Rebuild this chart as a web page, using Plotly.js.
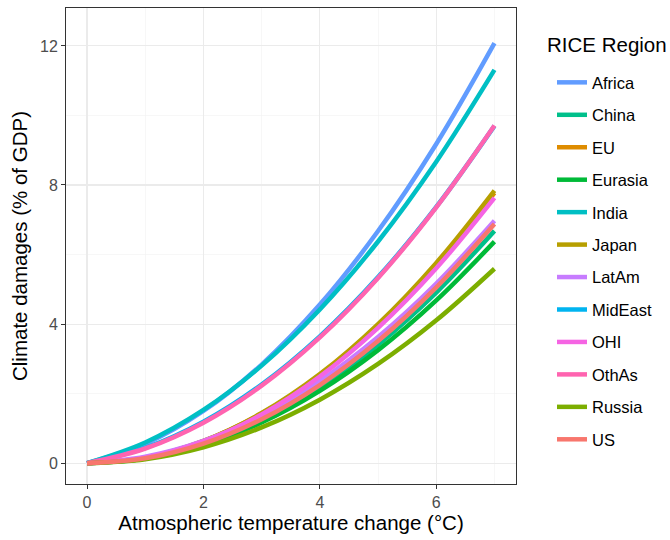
<!DOCTYPE html>
<html>
<head>
<meta charset="utf-8">
<script src="https://cdn.plot.ly/plotly-3.0.1.min.js"></script>
<style>html,body{margin:0;padding:0;background:#fff;}#chart{width:670px;height:540px;}</style>
</head>
<body>
<div id="chart"></div>
<script>
// Temperature change (°C)
const temps = [0, 1, 2, 3, 4, 5, 6, 7];
// Regions (legend order)
const regions = ["Africa","China","EU","Eurasia","India","Japan","LatAm","MidEast","OHI","OthAs","Russia","US"];
const legendTitle = "RICE Region";
// Damages (% of GDP)
const africa  = [0, 0.555, 1.50, 2.835, 4.56, 6.675, 9.18, 12.08];
const china   = [0, 0.136, 0.545, 1.227, 2.181, 3.408, 4.907, 6.68];
const eu      = [0, 0.159, 0.634, 1.427, 2.537, 3.964, 5.709, 7.77];
const eurasia = [0, 0.130, 0.520, 1.170, 2.080, 3.250, 4.680, 6.37];
const india   = [0, 0.595, 1.53, 2.805, 4.42, 6.375, 8.67, 11.31];
const japan   = [0, 0.160, 0.640, 1.440, 2.560, 4.000, 5.760, 7.84];
const latam   = [0, 0.185, 0.640, 1.366, 2.362, 3.628, 5.164, 6.97];
const mideast = [0, 0.438, 1.192, 2.262, 3.648, 5.350, 7.368, 9.70];
const ohi     = [0, 0.156, 0.623, 1.401, 2.491, 3.893, 5.606, 7.63];
const othas   = [0, 0.421, 1.164, 2.229, 3.616, 5.325, 7.356, 9.71];
const russia  = [0, 0.114, 0.456, 1.027, 1.825, 2.852, 4.107, 5.59];
const us      = [0, 0.140, 0.562, 1.264, 2.247, 3.510, 5.054, 6.88];
const series = [africa, china, eu, eurasia, india, japan, latam, mideast, ohi, othas, russia, us];
const colors = ["#619CFF","#00C08B","#DE8C00","#00BA38","#00BFC4","#B79F00","#C77CFF","#00B4F0","#F564E3","#FF64B0","#7CAE00","#F8766D"];

const traces = regions.map((r, i) => ({
  x: temps, y: series[i], type: "scatter", mode: "lines", name: r,
  legendgroup: r,
  line: {color: colors[i], width: 4.5, shape: "spline", smoothing: 1}
}));

const FONT = "Liberation Sans, Arial, sans-serif";
const layout = {
  width: 670, height: 540,
  margin: {l: 66, r: 154, t: 8, b: 56, autoexpand: false},
  paper_bgcolor: "#fff", plot_bgcolor: "#fff",
  font: {family: FONT, color: "#000"},
  showlegend: true,
  xaxis: {
    range: [-0.361, 7.37], dtick: 2, tick0: 0,
    showgrid: true, gridcolor: "#EBEBEB", gridwidth: 1.1,
    minor: {dtick: 1, showgrid: true, gridcolor: "#F2F2F2", gridwidth: 0.6},
    zeroline: false, showline: true, mirror: true, linecolor: "#333333", linewidth: 1,
    ticks: "outside", ticklen: 4, tickcolor: "#333333", tickwidth: 1,
    tickfont: {size: 16, color: "#4D4D4D", family: FONT},
    title: {text: "Atmospheric temperature change (°C)", font: {size: 20.5, color: "#000", family: FONT}, standoff: 4}
  },
  yaxis: {
    range: [-0.6, 13.09], dtick: 4, tick0: 0,
    showgrid: true, gridcolor: "#EBEBEB", gridwidth: 1.1,
    minor: {dtick: 2, showgrid: true, gridcolor: "#F2F2F2", gridwidth: 0.6},
    zeroline: false, showline: true, mirror: true, linecolor: "#333333", linewidth: 1,
    ticks: "outside", ticklen: 4, tickcolor: "#333333", tickwidth: 1,
    tickfont: {size: 16, color: "#4D4D4D", family: FONT},
    title: {text: "Climate damages (% of GDP)", font: {size: 20.5, color: "#000", family: FONT}, standoff: 6}
  },
  legend: {
    x: 1.08, xanchor: "left", y: 0.88, yanchor: "top",
    font: {size: 16.5, color: "#000", family: FONT},
    tracegroupgap: 8, traceorder: "grouped",
    bgcolor: "rgba(0,0,0,0)", borderwidth: 0
  },
  annotations: [{
    xref: "paper", yref: "paper", x: 1.064, y: 0.9223, xanchor: "left", yanchor: "middle",
    text: legendTitle, showarrow: false, font: {size: 20.5, color: "#000", family: FONT}
  }]
};

Plotly.newPlot("chart", traces, layout, {displayModeBar: false, staticPlot: true});
</script>
</body>
</html>
